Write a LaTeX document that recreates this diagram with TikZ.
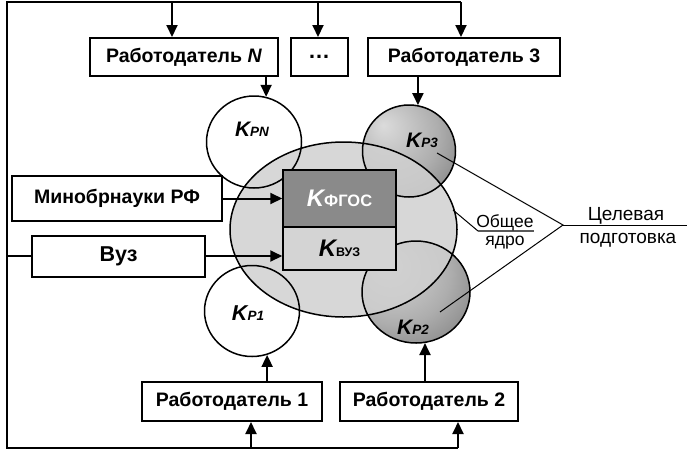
\documentclass[tikz,border=0pt]{standalone}
\usepackage{fontspec}
\setmainfont{Liberation Sans}
\usetikzlibrary{arrows.meta,shapes.geometric,calc}

\definecolor{coregray}{RGB}{208,208,208}
\definecolor{fgosgray}{RGB}{138,138,138}
\definecolor{vuzgray}{RGB}{212,212,212}
\pgfdeclareradialshading{kshade}{\pgfpoint{-14bp}{14bp}}{color(0bp)=(black!14); color(25bp)=(black!32); color(50bp)=(black!58); color(72bp)=(black!70)}

% K with a subscript set beside it
\newcommand{\Kc}[3]{{\fontsize{#1}{#1}\selectfont\bfseries\itshape K}{\fontsize{#2}{#2}\selectfont\bfseries #3}}

\begin{document}
\begin{tikzpicture}[
  x=1pt, y=-1pt,
  >={Triangle[length=12pt,width=11pt]},
  box/.style={draw, line width=2pt, fill=white, inner sep=0pt, minimum height=38,
    font=\fontsize{19.5}{21}\selectfont\bfseries},
  ring/.style={draw, ellipse, line width=1.5pt, inner sep=0pt},
  part/.style={draw, line width=1.5pt, inner sep=0pt, minimum width=113},
  wire/.style={line width=2pt},
  link/.style={line width=2pt, ->},
  leader/.style={line width=1pt},
  note/.style={anchor=base, inner sep=0pt, font=\fontsize{17.5}{19}\selectfont},
  goal/.style={anchor=base, inner sep=0pt, font=\fontsize{19}{21}\selectfont},
  klab/.style={anchor=base, inner sep=0pt}
]
\useasboundingbox (0,0) rectangle (687,451);

% ----- Fixed coordinates
\coordinate (tl) at (7,2);
\coordinate (bl) at (7,448);
\coordinate (aN) at (172,2);
\coordinate (ad) at (318,2);
\coordinate (a3) at (461,2);
\coordinate (a1) at (251,448);
\coordinate (a2) at (458,448);

\coordinate (cpn) at (254,142);
\coordinate (cp1) at (252,311);
\coordinate (cp3) at (409,151);
\coordinate (cp2) at (416,292);
\coordinate (ccore) at (343.5,229.5);

\coordinate (conv) at (563,225);
\coordinate (rend) at (687,225);
\coordinate (tp3) at (437,153);
\coordinate (tp2) at (440,312);
\coordinate (coretap) at (453,210);
\coordinate (ulstart) at (478,231);
\coordinate (ulend) at (534,231);

% ----- Employers, ministry, university
\node[box, minimum width=188] (empN) at (184,57) {Работодатель \textit{N}};
\node[box, minimum width=57] (dots) at (319,57) {\fontsize{22}{22}\selectfont …};
\node[box, minimum width=192] (emp3) at (464,57) {Работодатель 3};
\node[box, minimum width=180, minimum height=39] (emp1) at (232,401.5) {Работодатель 1};
\node[box, minimum width=178, minimum height=39] (emp2) at (429,401.5) {Работодатель 2};
\node[box, minimum width=210, minimum height=45] (minobr) at (117,198.5) {Минобрнауки РФ};
\node[box, minimum width=173, minimum height=41] (vuz) at (118.5,256) {\fontsize{21.5}{22}\selectfont Вуз};

% ----- Competence sets
\shade[shading=kshade] (cp3) circle [radius=46.5];
\shade[shading=kshade] (cp2) ellipse [x radius=54, y radius=51];
\node[draw, ellipse, line width=1.5pt, fill=coregray, fill opacity=0.85,
  minimum width=227, minimum height=175] (core) at (ccore) {};

\node[ring, minimum width=95, minimum height=92] (kpn) at (cpn) {};
\node[ring, minimum width=95, minimum height=91] (kp1) at (cp1) {};
\node[ring, minimum width=93, minimum height=92] (kp3) at (cp3) {};
\node[ring, minimum width=108, minimum height=102] (kp2) at (cp2) {};

\node[part, fill=fgosgray, minimum height=57, text=white] (kfgos) at (339.5,198.5) {\Kc{24}{16.5}{ФГОС}};
\node[part, fill=vuzgray, minimum height=43] (kvuz) at (339.5,248.5) {\Kc{24}{12.5}{ВУЗ}};

\node[klab] (lpn) at (252,136) {\Kc{21}{13.5}{\itshape PN}};
\node[klab] (lp3) at (422,147) {\Kc{21}{13.5}{\itshape P3}};
\node[klab] (lp1) at (248,320) {\Kc{21.5}{13.5}{\itshape P1}};
\node[klab] (lp2) at (413,334) {\Kc{21}{13.5}{\itshape P2}};

% ----- Frame and feeds
\draw[wire] (a3) -- (tl) -- (bl) -- (a2);
\draw[wire] (vuz.west) -- (vuz.west -| tl);
\draw[link] (aN) -- (aN |- empN.north);
\draw[link] (ad) -- (ad |- dots.north);
\draw[link] (a3) -- (a3 |- emp3.north);
\draw[link] (a1) -- (a1 |- emp1.south);
\draw[link] (a2) -- (a2 |- emp2.south);

\draw[link] (kpn.75 |- empN.south) -- (kpn.75);
\draw[link] (kp3.79 |- emp3.south) -- (kp3.79);
\draw[link] (kp1.-71 |- emp1.north) -- (kp1.-71);
\draw[link] (kp2.-80 |- emp2.north) -- (kp2.-80);

\draw[link] (minobr.east) -- (minobr.east -| kfgos.west);
\draw[link] (vuz.east) -- (vuz.east -| kvuz.west);

% ----- Right-hand labels
\draw[leader] (tp3) -- (conv) -- (tp2);
\draw[leader] (conv) -- (rend);
\draw[leader] (coretap) -- (ulstart);
\draw[leader, draw=black!65, line width=1.3pt] (ulstart) -- (ulend);

\node[note] (lobsh) at (505,227) {Общее};
\node[note] (lyadro) at (505,245) {ядро};
\node[goal] (ltarget) at (626,220) {Целевая};
\node[goal] (lprep) at (628,243) {подготовка};

\end{tikzpicture}
\end{document}
